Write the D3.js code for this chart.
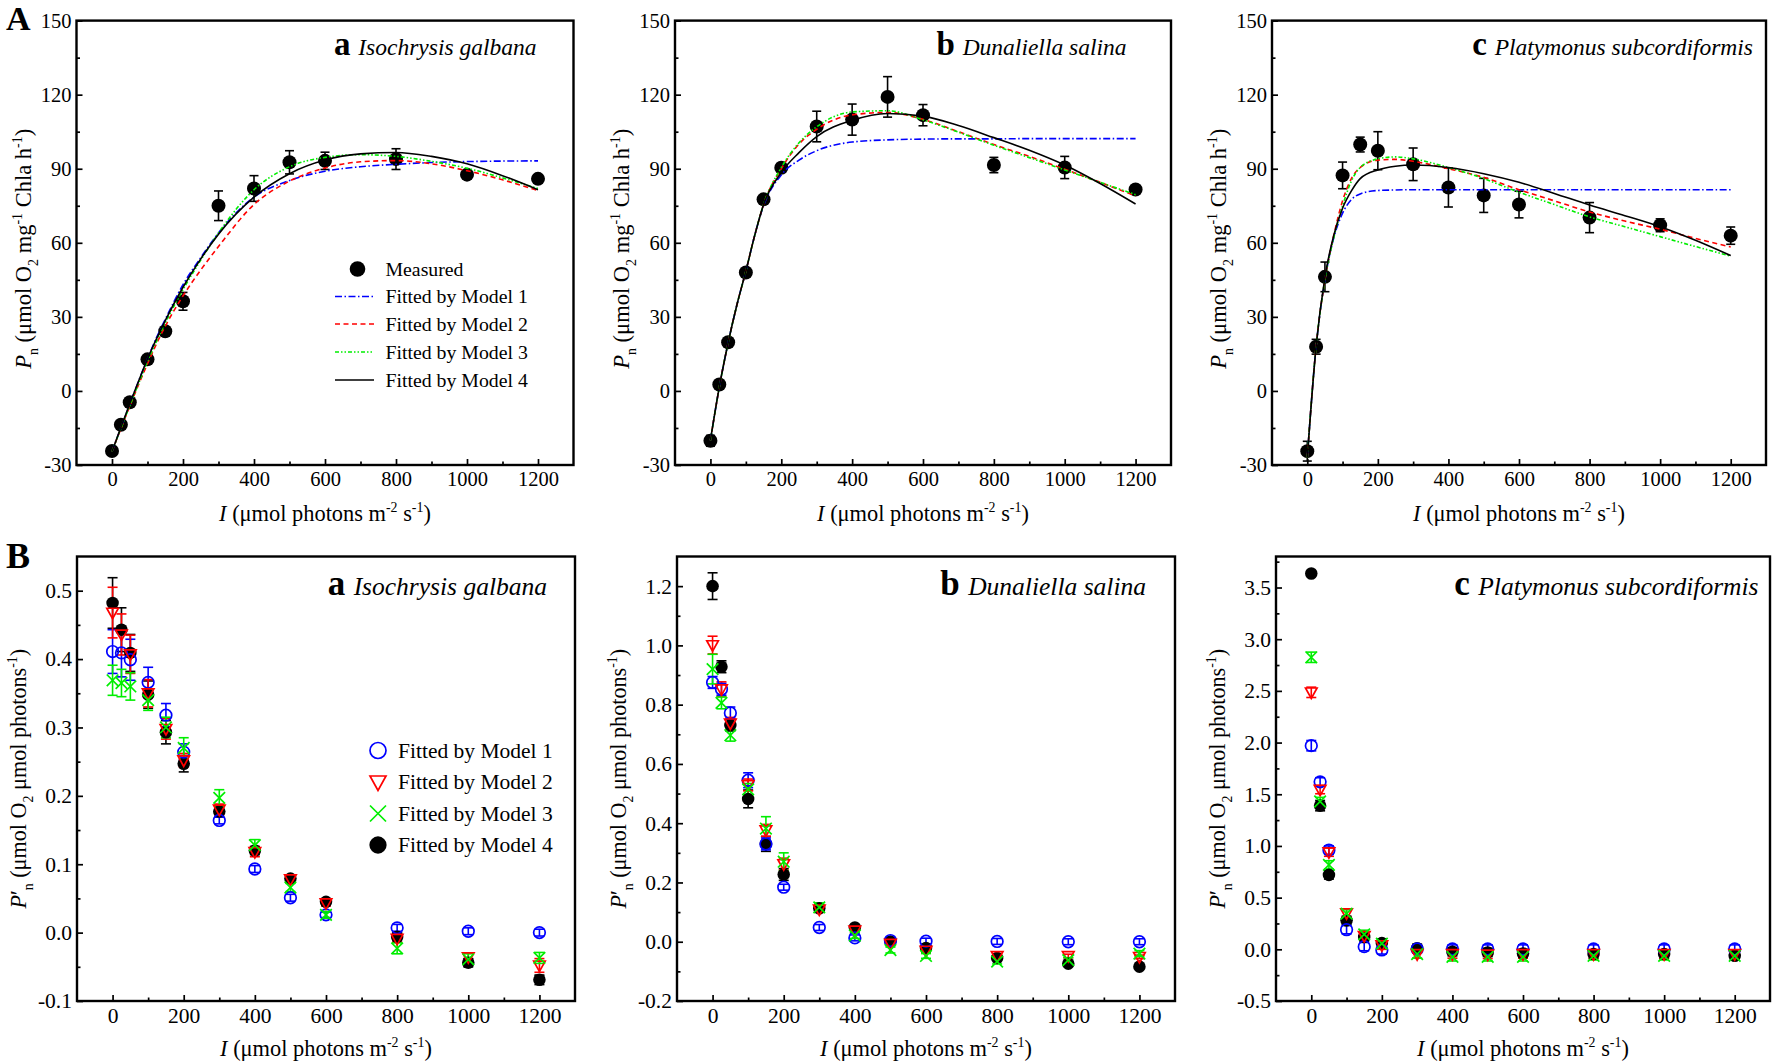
<!DOCTYPE html>
<html><head><meta charset="utf-8">
<script src="https://cdn.jsdelivr.net/npm/d3@7"></script>
<style>
html,body{margin:0;padding:0;background:#fff;}
svg{display:block;font-family:"Liberation Serif","Times New Roman",Times,serif;}
</style></head><body>
<svg id="chart" width="1772" height="1063"></svg>
<script>
// ---------------- DATA ----------------
const irradiance = [0,25,50,100,150,200,300,400,500,600,800,1000,1200];
const curveIrradiance = [0,25,50,75,100,125,150,200,250,300,400,500,600,700,800,900,1000,1100,1200];
const xTickValues = [0,200,400,600,800,1000,1200];
const speciesNames = ["Isochrysis galbana","Dunaliella salina","Platymonus subcordiformis"];
const panelLetters = ["a","b","c"];
const modelNames = ["Fitted by Model 1","Fitted by Model 2","Fitted by Model 3","Fitted by Model 4"];

// Row A: measured Pn and SE
const measuredIsochrysis = [-24.3,-13.7,-4.6,12.8,24.2,36.3,75.0,82.0,92.6,93.2,93.9,87.6,85.9];
const measuredIsochrysisErr = [1.0,1.0,1.2,1.2,1.2,3.6,6.0,5.2,4.7,3.5,4.2,1.5,1.2];
const measuredDunaliella = [-20.2,2.6,19.7,48.0,77.6,90.4,107.1,109.9,119.1,111.7,91.5,90.5,81.6];
const measuredDunaliellaErr = [2.2,1.0,1.0,1.2,1.2,1.5,6.2,6.3,8.2,4.3,3.1,4.5,1.5];
const measuredPlatymonus = [-24.4,17.9,46.2,87.3,99.8,97.3,91.8,82.4,79.2,75.5,70.2,67.1,62.9];
const measuredPlatymonusErr = [4.0,3.0,6.0,5.4,3.0,7.7,6.6,7.9,6.9,5.4,6.1,2.6,3.5];

// Row A: fitted curves (values at curveIrradiance)
const fitIsochrysisM1 = [-24.5,-15,-5.5,4,13,21.5,29,43,54,64,78.5,85.2,89,90.8,91.8,92.5,92.9,93.1,93.2];
const fitIsochrysisM2 = [-24.5,-15.3,-6.2,2.6,11,19,26.2,38.5,49,58.5,75.5,85,90.3,92.8,93.3,92,89.2,85.5,81.2];
const fitIsochrysisM3 = [-24.5,-15.2,-6,3,12,20,27.5,41,53,64,81.5,90.8,94.6,95.7,95,93,90.2,86.3,82];
const fitIsochrysisM4 = [-24.5,-14.8,-5.2,4,13,21,28.5,42,53.5,63.5,78.5,88,93.5,96,96.6,95,92,87.2,81.5];

const fitDunaliellaM1 = [-20,1.5,19.5,35,48.5,63,75,87.5,93.5,97.3,100.8,101.7,102,102.1,102.1,102.2,102.2,102.2,102.2];
const fitDunaliellaM2 = [-20,1.5,19.5,35,48.5,63,75.5,90,100,106,111.8,112.8,110,105,99.8,95,89.8,84.5,79];
const fitDunaliellaM3 = [-20,1.5,19.5,35,48.5,63,75.5,90.5,100.5,107,113,113.5,109.8,104.8,99.5,94.5,89.5,84.5,79.5];
const fitDunaliellaM4 = [-20,1.5,19.5,35,48.5,63,75.5,88.5,96.5,103,109.6,112.4,111.3,107.5,102.6,97.5,91.5,84,75.7];

const fitPlatymonusM1 = [-27,18,45,62,72,77.5,79.8,81.2,81.4,81.5,81.5,81.5,81.5,81.5,81.5,81.5,81.5,81.5,81.5];
const fitPlatymonusM2 = [-27,18,45,63,77,86,90.5,93.5,93.8,93,90,86.5,81.5,77,72.5,68.8,65.5,61.8,58.3];
const fitPlatymonusM3 = [-27,18,45,62,75,85,90.5,94,94.8,94,90.5,86,80.5,75.5,70.5,66.5,62.5,58.5,54.6];
const fitPlatymonusM4 = [-27,18,46,63,74,81,86,89.5,91,91.5,90.5,88,84.5,80,75.3,71,66.5,61,54.8];

// Row B: P'n by model (values and SE at irradiance)
const qIsochrysisM1 = [0.411,0.409,0.399,0.366,0.318,0.264,0.164,0.093,0.051,0.026,0.007,0.002,0.000];
const qIsochrysisM1Err = [0.032,0.035,0.030,0.022,0.017,0.012,0.005,0.005,0.005,0.004,0.005,0.005,0.005];
const qIsochrysisM2 = [0.468,0.436,0.407,0.350,0.298,0.252,0.180,0.118,0.078,0.043,-0.009,-0.036,-0.048];
const qIsochrysisM2Err = [0.037,0.030,0.028,0.020,0.015,0.010,0.008,0.007,0.005,0.004,0.005,0.006,0.010];
const qIsochrysisM3 = [0.369,0.365,0.360,0.340,0.300,0.270,0.197,0.128,0.066,0.026,-0.023,-0.039,-0.037];
const qIsochrysisM3Err = [0.022,0.020,0.020,0.015,0.015,0.015,0.012,0.008,0.006,0.005,0.008,0.008,0.008];
const qIsochrysisM4 = [0.482,0.443,0.409,0.348,0.293,0.247,0.177,0.120,0.079,0.045,-0.006,-0.044,-0.069];
const qIsochrysisM4Err = [0.037,0.032,0.027,0.020,0.017,0.012,0.008,0.006,0.005,0.004,0.006,0.006,0.007];

const qDunaliellaM1 = [0.875,0.852,0.772,0.545,0.330,0.184,0.048,0.013,0.004,0.002,0.001,0.000,0.000];
const qDunaliellaM1Err = [0.020,0.020,0.020,0.025,0.020,0.010,0.010,0.010,0.010,0.010,0.010,0.010,0.010];
const qDunaliellaM2 = [1.001,0.852,0.737,0.529,0.376,0.262,0.109,0.038,-0.007,-0.030,-0.048,-0.048,-0.051];
const qDunaliellaM2Err = [0.030,0.025,0.020,0.020,0.020,0.020,0.010,0.008,0.006,0.006,0.006,0.006,0.006];
const qDunaliellaM3 = [0.920,0.806,0.697,0.514,0.382,0.270,0.116,0.021,-0.028,-0.048,-0.067,-0.062,-0.040];
const qDunaliellaM3Err = [0.050,0.020,0.020,0.020,0.040,0.030,0.015,0.010,0.010,0.008,0.008,0.008,0.010];
const qDunaliellaM4 = [1.200,0.928,0.731,0.482,0.330,0.227,0.113,0.048,0.001,-0.021,-0.055,-0.074,-0.084];
const qDunaliellaM4Err = [0.045,0.020,0.020,0.030,0.025,0.020,0.010,0.008,0.006,0.006,0.006,0.006,0.006];

const qPlatymonusM1 = [1.970,1.620,0.960,0.190,0.026,-0.006,0.003,0.003,0.003,0.003,0.003,0.003,0.003];
const qPlatymonusM1Err = [0.05,0.04,0.04,0.04,0.04,0.04,0.04,0.04,0.04,0.04,0.04,0.04,0.04];
const qPlatymonusM2 = [2.486,1.545,0.940,0.350,0.130,0.040,-0.046,-0.046,-0.050,-0.046,-0.046,-0.046,-0.046];
const qPlatymonusM2Err = [0.05,0.04,0.04,0.04,0.04,0.04,0.04,0.04,0.04,0.04,0.04,0.04,0.04];
const qPlatymonusM3 = [2.825,1.430,0.817,0.345,0.145,0.055,-0.046,-0.073,-0.073,-0.073,-0.063,-0.063,-0.063];
const qPlatymonusM3Err = [0.05,0.04,0.04,0.04,0.04,0.04,0.04,0.04,0.04,0.04,0.04,0.04,0.04];
const qPlatymonusM4 = [3.636,1.390,0.720,0.280,0.120,0.060,0.010,-0.023,-0.030,-0.040,-0.046,-0.046,-0.063];
const qPlatymonusM4Err = [0.01,0.05,0.04,0.04,0.04,0.04,0.04,0.04,0.04,0.04,0.04,0.04,0.04];

// ---------------- DRAWING ----------------
const svg = d3.select('#chart');
const COLORS = ['#0000ff','#ff0000','#00ee00','#000000'];
const DASHES = ['7,2.5,1.5,2.5','5,3.5','4,2,1.5,2,1.5,2',null];

function rich(textSel, parts, size) {
  let shift = 0;
  parts.forEach(p => {
    const [t, st] = p;
    const ts = textSel.append('tspan').text(t);
    let target = 0;
    if (st === 'sub') target = size * 0.32;
    if (st === 'sup') target = -size * 0.4;
    if (target - shift !== 0) ts.attr('dy', target - shift);
    shift = target;
    if (st === 'sub' || st === 'sup') ts.attr('font-size', size * 0.62);
    if (st === 'i') ts.attr('font-style', 'italic');
  });
}

function makePanel(box, yDomain, yMajor, yMinor, fmt, fs) {
  const g = svg.append('g');
  const x = d3.scaleLinear().domain([-100, 1300]).range([box.l, box.r]);
  const y = d3.scaleLinear().domain(yDomain).range([box.b, box.t]);
  const xMinor = [100,300,500,700,900,1100];
  const styleAxis = a => {
    a.select('.domain').remove();
    a.attr('font-family', null).attr('font-size', fs);
    a.selectAll('line').attr('stroke', '#000').attr('stroke-width', 1.7);
    a.selectAll('text').attr('fill', '#000');
  };
  g.append('g').attr('transform', `translate(0,${box.b})`)
    .call(d3.axisBottom(x).tickValues(xMinor).tickSize(-3.5).tickFormat('')).call(styleAxis);
  g.append('g').attr('transform', `translate(0,${box.b})`)
    .call(d3.axisBottom(x).tickValues(xTickValues).tickSize(-6).tickPadding(box.xPad).tickFormat(d => String(d))).call(styleAxis);
  g.append('g').attr('transform', `translate(${box.l},0)`)
    .call(d3.axisLeft(y).tickValues(yMinor).tickSize(-3.5).tickFormat('')).call(styleAxis);
  g.append('g').attr('transform', `translate(${box.l},0)`)
    .call(d3.axisLeft(y).tickValues(yMajor).tickSize(-6).tickPadding(5).tickFormat(fmt)).call(styleAxis);
  g.append('rect').attr('x', box.l).attr('y', box.t).attr('width', box.r - box.l).attr('height', box.b - box.t)
    .attr('fill', 'none').attr('stroke', '#000').attr('stroke-width', 2.4);
  return {g, x, y};
}

function errorBars(g, x, y, xs, vals, errs, color, half) {
  const eb = g.append('g').attr('stroke', color).attr('stroke-width', 1.6).attr('fill', 'none');
  xs.forEach((xi, i) => {
    const px = x(xi), y1 = y(vals[i] - errs[i]), y2 = y(vals[i] + errs[i]);
    eb.append('line').attr('x1', px).attr('x2', px).attr('y1', y1).attr('y2', y2);
    eb.append('line').attr('x1', px - half).attr('x2', px + half).attr('y1', y1).attr('y2', y1);
    eb.append('line').attr('x1', px - half).attr('x2', px + half).attr('y1', y2).attr('y2', y2);
  });
}

function marker(g, kind, cx, cy, s) {
  if (kind === 0) g.append('circle').attr('cx', cx).attr('cy', cy).attr('r', s).attr('fill', 'none').attr('stroke', COLORS[0]).attr('stroke-width', 1.7);
  if (kind === 1) g.append('path').attr('d', `M${cx - s},${cy - s * 0.75}L${cx + s},${cy - s * 0.75}L${cx},${cy + s * 1.05}Z`).attr('fill', 'none').attr('stroke', COLORS[1]).attr('stroke-width', 1.7).attr('stroke-linejoin', 'miter');
  if (kind === 2) g.append('path').attr('d', `M${cx - s},${cy - s}L${cx + s},${cy + s}M${cx - s},${cy + s}L${cx + s},${cy - s}`).attr('stroke', COLORS[2]).attr('stroke-width', 1.7);
  if (kind === 3) g.append('circle').attr('cx', cx).attr('cy', cy).attr('r', s * 1.08).attr('fill', '#000');
}

function speciesLabel(g, xr, yb, letter, name, fsL, fsN) {
  const t = g.append('text').attr('x', xr).attr('y', yb).attr('text-anchor', 'end').attr('fill', '#000');
  t.append('tspan').text(letter).attr('font-weight', 'bold').attr('font-size', fsL);
  t.append('tspan').text(' ' + name).attr('font-style', 'italic').attr('font-size', fsN).attr('dx', 2);
}

function xTitle(g, cx, yb, fs) {
  const t = g.append('text').attr('x', cx).attr('y', yb).attr('text-anchor', 'middle').attr('font-size', fs).attr('fill', '#000');
  rich(t, [['I','i'],[' (μmol photons m',''],['-2','sup'],[' s',''],['-1','sup'],[')','']], fs);
}

function yTitle(g, xb, cy, fs, parts) {
  const t = g.append('text').attr('transform', `translate(${xb},${cy}) rotate(-90)`).attr('text-anchor', 'middle').attr('font-size', fs).attr('fill', '#000');
  rich(t, parts, fs);
}

const yTitleA = [['P','i'],['n','sub'],[' (μmol O',''],['2','sub'],[' mg',''],['-1','sup'],[' Chla h',''],['-1','sup'],[')','']];
const yTitleB = [['P','i'],['′',''],['n','sub'],[' (μmol O',''],['2','sub'],[' μmol photons',''],['-1','sup'],[')','']];

// ---------- Row A ----------
const rowA = [
  {box:{l:76.5, r:573.5, t:20.6, b:465, xPad:6}, meas:measuredIsochrysis, err:measuredIsochrysisErr,
   fits:[fitIsochrysisM1, fitIsochrysisM2, fitIsochrysisM3, fitIsochrysisM4], labelX:536.5},
  {box:{l:675, r:1171, t:20.6, b:465, xPad:6}, meas:measuredDunaliella, err:measuredDunaliellaErr,
   fits:[fitDunaliellaM1, fitDunaliellaM2, fitDunaliellaM3, fitDunaliellaM4], labelX:1126.5},
  {box:{l:1272, r:1766, t:20.6, b:465, xPad:6}, meas:measuredPlatymonus, err:measuredPlatymonusErr,
   fits:[fitPlatymonusM1, fitPlatymonusM2, fitPlatymonusM3, fitPlatymonusM4], labelX:1753}
];
const yMajorA = [-30,0,30,60,90,120,150];
const yMinorA = [-15,15,45,75,105,135];

rowA.forEach((p, k) => {
  const {g, x, y} = makePanel(p.box, [-30,150], yMajorA, yMinorA, d => String(d), 20.5);
  errorBars(g, x, y, irradiance, p.meas, p.err, '#000', 4.5);
  g.append('g').selectAll('circle').data(p.meas).join('circle')
    .attr('cx', (d, i) => x(irradiance[i])).attr('cy', d => y(d)).attr('r', 7).attr('fill', '#000');
  const line = d3.line().x(d => x(d[0])).y(d => y(d[1])).curve(d3.curveMonotoneX);
  p.fits.forEach((vals, m) => {
    g.append('path').datum(curveIrradiance.map((xi, i) => [xi, vals[i]]))
      .attr('d', line).attr('fill', 'none').attr('stroke', COLORS[m]).attr('stroke-width', 1.6)
      .attr('stroke-dasharray', DASHES[m]);
  });
  speciesLabel(g, p.labelX, 55, panelLetters[k], speciesNames[k], 33, 23.5);
  xTitle(g, (p.box.l + p.box.r) / 2, 521, 22.4);
  yTitle(g, p.box.l - 46, (p.box.t + p.box.b) / 2 + 6, 22.5, yTitleA);
  if (k === 0) {
    // legend
    const lg = g.append('g').attr('font-size', 19.8);
    const rows = [269, 296.5, 324, 352, 380];
    lg.append('circle').attr('cx', 357.5).attr('cy', rows[0]).attr('r', 7.8).attr('fill', '#000');
    lg.append('text').attr('x', 385.5).attr('y', rows[0] + 6.5).text('Measured');
    modelNames.forEach((nm, m) => {
      lg.append('line').attr('x1', 335).attr('x2', 374).attr('y1', rows[m + 1]).attr('y2', rows[m + 1])
        .attr('stroke', COLORS[m]).attr('stroke-width', 1.6).attr('stroke-dasharray', DASHES[m]);
      lg.append('text').attr('x', 385.5).attr('y', rows[m + 1] + 6.5).text(nm);
    });
  }
});

// ---------- Row B ----------
const rowB = [
  {box:{l:77, r:575, t:556.5, b:1001, xPad:7}, dom:[-0.1,0.55],
   major:[-0.1,0,0.1,0.2,0.3,0.4,0.5], minor:[-0.05,0.05,0.15,0.25,0.35,0.45],
   series:[[qIsochrysisM1,qIsochrysisM1Err],[qIsochrysisM2,qIsochrysisM2Err],[qIsochrysisM3,qIsochrysisM3Err],[qIsochrysisM4,qIsochrysisM4Err]],
   labelX:547},
  {box:{l:677, r:1175, t:556.5, b:1001, xPad:7}, dom:[-0.2,1.3],
   major:[-0.2,0,0.2,0.4,0.6,0.8,1.0,1.2], minor:[-0.1,0.1,0.3,0.5,0.7,0.9,1.1],
   series:[[qDunaliellaM1,qDunaliellaM1Err],[qDunaliellaM2,qDunaliellaM2Err],[qDunaliellaM3,qDunaliellaM3Err],[qDunaliellaM4,qDunaliellaM4Err]],
   labelX:1146},
  {box:{l:1276, r:1770, t:556.5, b:1001, xPad:7}, dom:[-0.5,3.8],
   major:[-0.5,0,0.5,1.0,1.5,2.0,2.5,3.0,3.5], minor:[-0.25,0.25,0.75,1.25,1.75,2.25,2.75,3.25,3.75],
   series:[[qPlatymonusM1,qPlatymonusM1Err],[qPlatymonusM2,qPlatymonusM2Err],[qPlatymonusM3,qPlatymonusM3Err],[qPlatymonusM4,qPlatymonusM4Err]],
   labelX:1758.5}
];
const drawOrder = [3, 0, 1, 2];

rowB.forEach((p, k) => {
  const {g, x, y} = makePanel(p.box, p.dom, p.major, p.minor, d => d.toFixed(1), 21.5);
  drawOrder.forEach(m => {
    const [vals, errs] = p.series[m];
    errorBars(g, x, y, irradiance, vals, errs, COLORS[m], 5);
  });
  drawOrder.forEach(m => {
    const [vals] = p.series[m];
    const mg = g.append('g');
    vals.forEach((v, i) => marker(mg, m, x(irradiance[i]), y(v), 5.8));
  });
  speciesLabel(g, p.labelX, 595, panelLetters[k], speciesNames[k], 35, 25.5);
  xTitle(g, (p.box.l + p.box.r) / 2, 1056, 22.4);
  yTitle(g, p.box.l - 51, (p.box.t + p.box.b) / 2, 22.2, yTitleB);
  if (k === 0) {
    const lg = g.append('g').attr('font-size', 21.5);
    const rows = [750.5, 782, 813.5, 845];
    modelNames.forEach((nm, m) => {
      marker(lg, m, 378, rows[m], 8);
      lg.append('text').attr('x', 398).attr('y', rows[m] + 7).text(nm);
    });
  }
});

// Row letters
svg.append('text').attr('x', 6).attr('y', 30).attr('font-size', 34).attr('font-weight', 'bold').text('A');
svg.append('text').attr('x', 6).attr('y', 568).attr('font-size', 36).attr('font-weight', 'bold').text('B');
</script>
</body></html>
